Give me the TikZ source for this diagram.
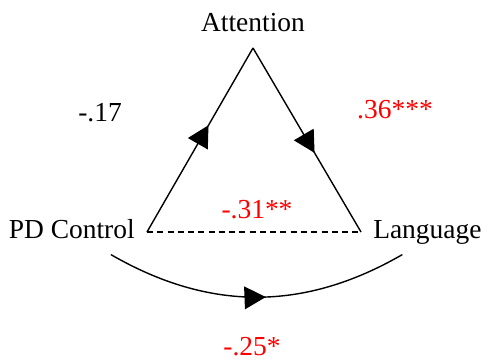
\documentclass[tikz,border=0pt]{standalone}
\usepackage{fontspec}
\setmainfont{Liberation Serif}
\usetikzlibrary{arrows.meta,decorations.markings}
\definecolor{reda}{HTML}{FF0000}
\tikzset{var/.style={font=\fontsize{20.6}{24}\selectfont,inner xsep=9pt,inner ysep=7.5pt,text height=14pt,text depth=4.5pt},coef/.style={font=\fontsize{20.6}{24}\selectfont,inner sep=0pt},link/.style={line width=1.05pt,draw=black},midarrow/.style={decoration={markings,mark=at position #1 with {\arrow{Triangle[length=16pt,width=17pt]}}},postaction={decorate}}}

\begin{document}
\begin{tikzpicture}[x=0.75pt,y=-0.75pt]
\useasboundingbox (0,0) rectangle (482,360);
\node[var,anchor=east] (pd) at (147,232) {PD Control};
\node[var,anchor=west] (lang) at (361,232) {Language};
\node[var,anchor=south] (att) at (253,48) {Attention};
\draw[link,midarrow=0.58] (pd.east) -- (att.south);
\draw[link,midarrow=0.57] (att.south) -- (lang.west);
\draw[link,dash pattern=on 4.5pt off 3.2pt] (pd.east) -- (lang.west);
\draw[link,midarrow=0.53] (pd.-30) to[out=-30,in=-150] (lang.-138);
\node[coef] (a) at (100,113) {-.17};
\node[coef,text=reda] (b) at (395,110) {.36***};
\node[coef,text=reda] (c) at (257,210) {-.31**};
\node[coef,text=reda] (cp) at (252,347) {-.25*};
\end{tikzpicture}
\end{document}
